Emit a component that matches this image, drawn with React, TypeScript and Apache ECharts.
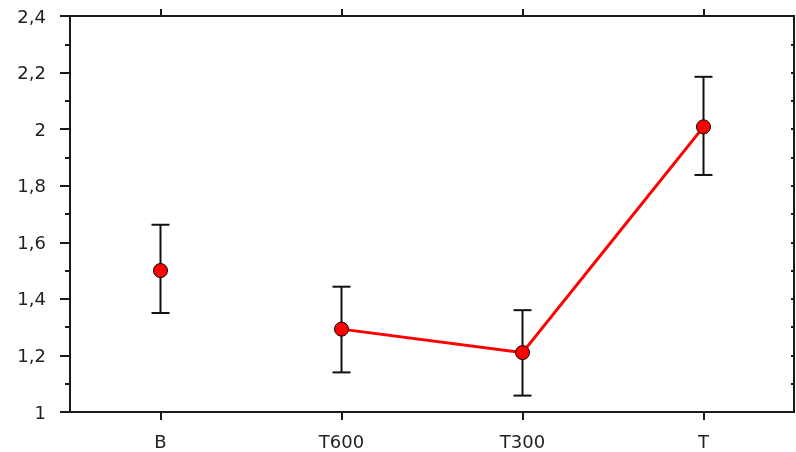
import React, { useEffect, useRef } from "react";
import * as echarts from "echarts";

const categories = ["B", "T600", "T300", "T"];
const means = [1.5, 1.293, 1.21, 2.008];
const lows = [1.35, 1.14, 1.058, 1.838];
const highs = [1.662, 1.443, 1.36, 2.185];
const connected = [false, true, true, true];

export default function App() {
  const ref = useRef<HTMLDivElement>(null);
  useEffect(() => {
    if (!ref.current) return;
    const chart = echarts.init(ref.current, undefined, { renderer: "svg" });
    const axisColor = "#1a1a1a";
    const font = "DejaVu Sans, Verdana, sans-serif";
    const fmt = (v: number) => String(Math.round(v * 10) / 10).replace(".", ",");
    chart.setOption({
      animation: false,
      grid: {
        left: 70,
        right: 2,
        top: 16,
        bottom: 40,
        containLabel: false,
        show: true,
        borderColor: axisColor,
        borderWidth: 2,
        backgroundColor: "transparent",
      },
      xAxis: [
        {
          type: "category",
          data: categories,
          boundaryGap: true,
          axisLine: { show: true, lineStyle: { color: axisColor, width: 2 } },
          axisTick: { show: true, alignWithLabel: true, interval: 0, length: 8, lineStyle: { color: axisColor, width: 2 } },
          axisLabel: { color: "#222", fontSize: 18, fontFamily: font, margin: 20, interval: 0 },
          splitLine: { show: false },
        },
        {
          type: "category",
          data: categories,
          position: "top",
          boundaryGap: true,
          axisLine: { show: true, lineStyle: { color: axisColor, width: 2 } },
          axisTick: { show: true, alignWithLabel: true, interval: 0, length: 7, lineStyle: { color: axisColor, width: 2 } },
          axisLabel: { show: false },
        },
      ],
      yAxis: [
        {
          type: "value",
          min: 1,
          max: 2.4,
          interval: 0.2,
          axisLine: { show: true, lineStyle: { color: axisColor, width: 2 } },
          axisTick: { show: true, length: 10, lineStyle: { color: axisColor, width: 2 } },
          minorTick: { show: true, splitNumber: 2, length: 5, lineStyle: { color: axisColor, width: 2 } },
          axisLabel: {
            color: "#222",
            fontSize: 18,
            fontFamily: font,
            margin: 24,
            formatter: (v: number) => fmt(v),
          },
          splitLine: { show: false },
        },
        {
          type: "value",
          min: 1,
          max: 2.4,
          interval: 0.2,
          position: "right",
          axisLine: { show: true, lineStyle: { color: axisColor, width: 2 } },
          axisTick: { show: true, inside: true, length: 3, lineStyle: { color: axisColor, width: 2 } },
          minorTick: { show: true, splitNumber: 2, length: 3, lineStyle: { color: axisColor, width: 2 } },
          axisLabel: { show: false },
          splitLine: { show: false },
        },
      ],
      series: [
        {
          type: "custom",
          name: "error",
          data: categories.map((_, i) => [i, lows[i], highs[i]]),
          z: 2,
          renderItem: (params: any, api: any) => {
            const x = api.value(0);
            const lo = api.coord([x, api.value(1)]);
            const hi = api.coord([x, api.value(2)]);
            const hw = 9;
            const style = { stroke: "#111", lineWidth: 2, fill: "none" };
            return {
              type: "group",
              children: [
                { type: "line", shape: { x1: lo[0], y1: lo[1], x2: hi[0], y2: hi[1] }, style },
                { type: "line", shape: { x1: lo[0] - hw, y1: lo[1], x2: lo[0] + hw, y2: lo[1] }, style },
                { type: "line", shape: { x1: hi[0] - hw, y1: hi[1], x2: hi[0] + hw, y2: hi[1] }, style },
              ],
            };
          },
        },
        {
          type: "line",
          data: means.map((v, i) => (connected[i] ? v : "-")),
          showSymbol: false,
          symbol: "none",
          lineStyle: { color: "#ff0000", width: 3 },
          z: 3,
        },
        {
          type: "scatter",
          data: means.map((v, i) => [i, v]),
          symbol: "circle",
          symbolSize: 14,
          itemStyle: { color: "#ff0000", borderColor: "#000", borderWidth: 1, opacity: 1 },
          z: 4,
        },
      ],
    });
    return () => chart.dispose();
  }, []);
  return <div ref={ref} style={{ position: "fixed", left: 0, top: 0, width: 796, height: 452 }} />;
}
